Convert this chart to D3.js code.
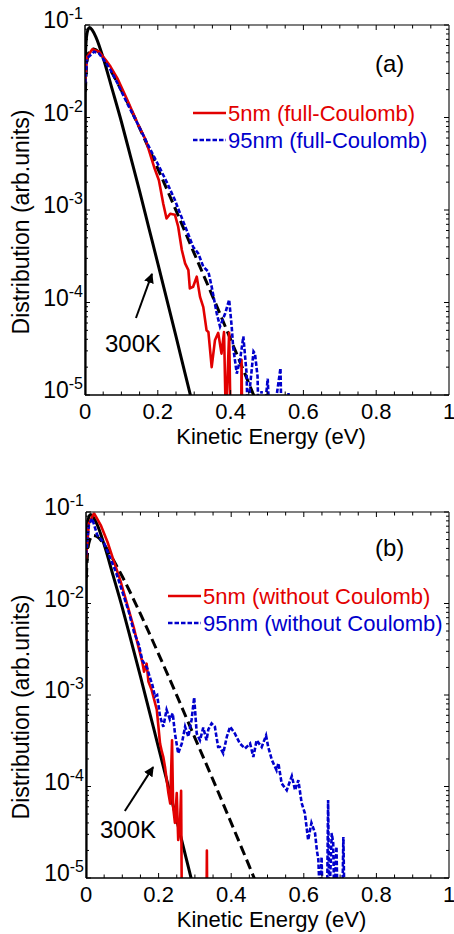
<!DOCTYPE html>
<meta charset="utf-8">
<html>
<head>
<title>Kinetic energy distribution</title>
<script src="https://cdn.jsdelivr.net/npm/d3@7"></script>
<style>
    *{ margin:0; padding:0;}
    body{ background:#fff;}
    svg{ display:block; font-family:"Liberation Sans", Arial, sans-serif;}
</style>
</head>
<body>
<div id="chart"></div>
<script>
// ---- data (energy in eV, distribution in arb. units) ----
// 300 K Maxwell-Boltzmann reference (solid black, same in both panels)
var mbE = [0, 0.001, 0.003, 0.006, 0.01, 0.013, 0.02, 0.03, 0.05, 0.075, 0.1, 0.125, 0.15, 0.175, 0.2, 0.225, 0.25, 0.275, 0.3];
var mbV = [1e-6, 0.041, 0.066, 0.083, 0.092, 0.094, 0.088, 0.074, 0.044, 0.020, 0.009, 0.0038, 0.0016, 6.5e-4, 2.65e-4, 1.07e-4, 4.3e-5, 1.7e-5, 6.8e-6];

// hotter fit (dashed black, same in both panels)
var fitE = [0.001, 0.005, 0.01, 0.02, 0.03, 0.05, 0.075, 0.1, 0.15, 0.2, 0.25, 0.3, 0.35, 0.4, 0.45, 0.47];
var fitV = [0.019, 0.039, 0.049, 0.0555, 0.054, 0.044, 0.030, 0.0197, 0.0077, 0.0028, 9.9e-4, 3.4e-4, 1.18e-4, 4.0e-5, 1.34e-5, 8.6e-6];

// (a) 5nm full-Coulomb
var aRedE = [0, 0.006, 0.02, 0.0385, 0.057, 0.07, 0.089, 0.116, 0.144, 0.167, 0.19, 0.203, 0.215, 0.224, 0.234, 0.247, 0.256, 0.266, 0.275, 0.284, 0.288, 0.297, 0.307, 0.316, 0.325, 0.334, 0.339, 0.348, 0.357, 0.366, 0.375, 0.382, 0.387, 0.396, 0.40, 0.41, 0.429, 0.43, 0.432];
var aRedV = [0.0245, 0.045, 0.0546, 0.0515, 0.0419, 0.0355, 0.0265, 0.0155, 0.0087, 0.0057, 0.0029, 0.0021, 0.00117, 0.00081, 0.00091, 0.00089, 0.00066, 0.00037, 0.000265, 0.000224, 0.000142, 0.000148, 0.00019, 0.000115, 8.9e-5, 5.0e-5, 4.8e-5, 2.0e-5, 3.9e-5, 4.7e-5, 2.8e-5, 4.8e-5, 5e-6, 4.7e-5, 5e-6, null, 5e-6, 2.4e-5, 5e-6];

// (a) 95nm full-Coulomb
var aBlueE = [0, 0.006, 0.025, 0.038, 0.052, 0.07, 0.089, 0.116, 0.144, 0.171, 0.199, 0.226, 0.247, 0.261, 0.279, 0.297, 0.311, 0.325, 0.339, 0.348, 0.362, 0.371, 0.385, 0.396, 0.403, 0.407, 0.417, 0.426, 0.435, 0.444, 0.447, 0.453, 0.463, 0.467, 0.474, 0.477, 0.485, 0.49, 0.502, 0.507, 0.516, 0.537, 0.54, 0.55, 0.559, 0.562];
var aBlueV = [0.0235, 0.0437, 0.0515, 0.0494, 0.0419, 0.0327, 0.0235, 0.01425, 0.00865, 0.00525, 0.0032, 0.00195, 0.00128, 0.00092, 0.00061, 0.0004, 0.00034, 0.000244, 0.000215, 0.000148, 7.6e-5, 5.5e-5, 7.6e-5, 1.07e-4, 5.5e-5, 3.3e-5, 1.7e-5, 2.4e-5, 4.3e-5, 1.7e-5, 5e-6, 1.2e-5, 2.95e-5, 2.8e-5, 1.6e-5, 5e-6, 1.1e-5, 5e-6, 1.5e-5, 5e-6, 5e-6, 1.95e-5, 5e-6, null, 1.05e-5, 5e-6];

// (b) 5nm without Coulomb
var bRedE = [0, 0.008, 0.022, 0.0405, 0.059, 0.077, 0.0955, 0.114, 0.132, 0.141, 0.155, 0.16, 0.167, 0.172, 0.181, 0.195, 0.204, 0.209, 0.213, 0.218, 0.222, 0.227, 0.232, 0.237, 0.24, 0.245, 0.25, 0.254, 0.259, 0.262, 0.264, 0.3, 0.332, 0.333, 0.334];
var bRedV = [0.031, 0.075, 0.097, 0.072, 0.0473, 0.0287, 0.0174, 0.0096, 0.0054, 0.0038, 0.0023, 0.0018, 0.0022, 0.0014, 0.00113, 0.00069, 0.000295, 0.00024, 0.00021, 0.00016, 0.00012, 8.5e-5, 6.5e-5, 3.2e-4, 6e-5, 4e-5, 8.5e-5, 2.6e-5, 4e-5, 9e-5, 5e-6, null, 5e-6, 2e-5, 5e-6];

// (b) 95nm without Coulomb
var bBlueE = [0, 0.008, 0.017, 0.031, 0.05, 0.063, 0.082, 0.1, 0.118, 0.132, 0.146, 0.155, 0.169, 0.175, 0.183, 0.19, 0.196, 0.204, 0.213, 0.222, 0.231, 0.239, 0.245, 0.254, 0.264, 0.273, 0.282, 0.291, 0.298, 0.305, 0.314, 0.323, 0.332, 0.337, 0.346, 0.355, 0.364, 0.369, 0.378, 0.388, 0.397, 0.41, 0.424, 0.438, 0.452, 0.461, 0.47, 0.484, 0.496, 0.502, 0.512, 0.525, 0.53, 0.539, 0.553, 0.567, 0.576, 0.585, 0.594, 0.603, 0.612, 0.621, 0.631, 0.636, 0.64, 0.645, 0.649, 0.652, 0.66, 0.664, 0.667, 0.67, 0.677, 0.681, 0.684, 0.69, 0.693, 0.7, 0.706, 0.709, 0.712];
var bBlueV = [0.034, 0.072, 0.085, 0.056, 0.0457, 0.034, 0.0223, 0.0135, 0.0081, 0.0049, 0.0035, 0.0024, 0.00195, 0.0016, 0.00128, 0.00096, 0.001, 0.00058, 0.00045, 0.00069, 0.00054, 0.00063, 0.00038, 0.00023, 0.000295, 0.00045, 0.00035, 0.00054, 0.00094, 0.00038, 0.00032, 0.00044, 0.00032, 0.00042, 0.00049, 0.00045, 0.00027, 0.00027, 0.00023, 0.00035, 0.00045, 0.00038, 0.000295, 0.00026, 0.000295, 0.00021, 0.00032, 0.00027, 0.00036, 0.00027, 0.000195, 0.00015, 0.00018, 0.000108, 9.1e-5, 0.00013, 9.1e-5, 0.000117, 6.6e-5, 5.1e-5, 2.6e-5, 4e-5, 3.1e-5, 2e-5, 1.6e-5, 5e-6, 1.7e-5, 5e-6, null, 5e-6, 7.1e-5, 5e-6, 3.1e-5, 2.4e-5, 5e-6, 2.2e-5, 5e-6, null, 5e-6, 2.8e-5, 5e-6];

var xTickLabels = ["0", "0.2", "0.4", "0.6", "0.8", "1"];
var yTickExps = [-1, -2, -3, -4, -5];

var panels = [
    { id: "a", tag: "(a)", left: 85, right: 449, top: 25, bottom: 395,
      red: [aRedE, aRedV], blue: [aBlueE, aBlueV],
      redName: "5nm (full-Coulomb)", blueName: "95nm (full-Coulomb)",
      legX: 193, legY: 113, arrow: [[0.14, 6.8e-5], [0.184, 2.04e-4]], kLabel: [105, 352] },
    { id: "b", tag: "(b)", left: 86, right: 449, top: 512, bottom: 878,
      red: [bRedE, bRedV], blue: [bBlueE, bBlueV],
      redName: "5nm (without Coulomb)", blueName: "95nm (without Coulomb)",
      legX: 168, legY: 596, arrow: [[0.107, 5.4e-5], [0.185, 1.63e-4]], kLabel: [100, 838] }
];

var RED = "#e20000", BLUE = "#0000cc";

var svg = d3.select("#chart").append("svg")
    .attr("width", 454).attr("height", 934);

svg.append("defs").append("marker")
    .attr("id", "head").attr("viewBox", "0 0 10 10")
    .attr("refX", 9).attr("refY", 5)
    .attr("markerWidth", 5).attr("markerHeight", 5)
    .attr("orient", "auto")
    .append("path").attr("d", "M0,0L10,5L0,10z").attr("fill", "#000");

function zip(E, V) {
    return E.map(function (e, i) { return { e: e, v: V[i] }; });
}

panels.forEach(function (p) {
    var x = d3.scaleLinear().domain([0, 1]).range([p.left, p.right]);
    var y = d3.scaleLog().domain([1e-5, 1e-1]).range([p.bottom, p.top]);
    var g = svg.append("g");

    g.append("clipPath").attr("id", "clip" + p.id)
        .append("rect").attr("x", p.left).attr("y", p.top)
        .attr("width", p.right - p.left).attr("height", p.bottom - p.top);

    var line = d3.line()
        .defined(function (d) { return d.v != null; })
        .x(function (d) { return x(d.e); })
        .y(function (d) { return y(d.v); });
    var smooth = d3.line()
        .x(function (d) { return x(d.e); })
        .y(function (d) { return y(d.v); })
        .curve(d3.curveMonotoneX);

    var plot = g.append("g").attr("clip-path", "url(#clip" + p.id + ")");
    plot.append("path").datum(zip(mbE, mbV))
        .attr("d", smooth).attr("fill", "none").attr("stroke", "#000").attr("stroke-width", 3);
    plot.append("path").datum(zip(fitE, fitV))
        .attr("d", smooth).attr("fill", "none").attr("stroke", "#000").attr("stroke-width", 3)
        .attr("stroke-dasharray", "10,5");
    plot.append("path").datum(zip(p.red[0], p.red[1]))
        .attr("d", line).attr("fill", "none").attr("stroke", RED).attr("stroke-width", 2.6)
        .attr("stroke-linejoin", "round");
    plot.append("path").datum(zip(p.blue[0], p.blue[1]))
        .attr("d", line).attr("fill", "none").attr("stroke", BLUE).attr("stroke-width", 2.6)
        .attr("stroke-dasharray", "4.5,2");

    // box
    g.append("line").attr("x1", p.left).attr("x2", p.right).attr("y1", p.top).attr("y2", p.top)
        .attr("stroke", "#555").attr("stroke-width", 1.5);
    g.append("line").attr("x1", p.right).attr("x2", p.right).attr("y1", p.top).attr("y2", p.bottom)
        .attr("stroke", "#666").attr("stroke-width", 1.8);
    g.append("line").attr("x1", p.left).attr("x2", p.right).attr("y1", p.bottom).attr("y2", p.bottom)
        .attr("stroke", "#000").attr("stroke-width", 1.5);
    g.append("line").attr("x1", p.left).attr("x2", p.left).attr("y1", p.top).attr("y2", p.bottom)
        .attr("stroke", "#000").attr("stroke-width", 1.5);

    // x ticks every 0.05, longer at labelled ones
    d3.range(1, 20).forEach(function (i) {
        var xv = x(i * 0.05), len = (i % 4 === 0) ? 5 : 3.5;
        g.append("line").attr("x1", xv).attr("x2", xv).attr("y1", p.bottom).attr("y2", p.bottom - len)
            .attr("stroke", "#000").attr("stroke-width", 1);
        g.append("line").attr("x1", xv).attr("x2", xv).attr("y1", p.top).attr("y2", p.top + len)
            .attr("stroke", "#000").attr("stroke-width", 1);
    });
    xTickLabels.forEach(function (t) {
        g.append("text").attr("x", x(+t)).attr("y", p.bottom + 24)
            .attr("text-anchor", "middle").attr("font-size", 22).text(t);
    });

    // y ticks (log minor ticks inside on both sides)
    y.ticks().forEach(function (v) {
        var lg = Math.log10(v), major = Math.abs(lg - Math.round(lg)) < 1e-6;
        var len = major ? 5 : 3, yv = y(v);
        g.append("line").attr("x1", p.left).attr("x2", p.left + len).attr("y1", yv).attr("y2", yv)
            .attr("stroke", "#000").attr("stroke-width", 1);
        g.append("line").attr("x1", p.right).attr("x2", p.right - len).attr("y1", yv).attr("y2", yv)
            .attr("stroke", "#000").attr("stroke-width", 1);
    });
    yTickExps.forEach(function (k) {
        var t = g.append("text").attr("x", p.left - 2).attr("y", y(Math.pow(10, k)) + 3)
            .attr("text-anchor", "end");
        t.append("tspan").attr("font-size", 23).text("10");
        t.append("tspan").attr("font-size", 16).attr("dy", -9).text(String(k));
    });

    // axis titles
    g.append("text").attr("x", (p.left + p.right) / 2 + 4).attr("y", p.bottom + 49)
        .attr("text-anchor", "middle").attr("font-size", 22).text("Kinetic Energy (eV)");
    g.append("text")
        .attr("transform", "translate(29," + ((p.top + p.bottom) / 2 + 12) + ") rotate(-90)")
        .attr("text-anchor", "middle").attr("font-size", 23).text("Distribution (arb.units)");

    // panel tag
    g.append("text").attr("x", 375).attr("y", p.top + (p.id === "a" ? 47 : 44))
        .attr("font-size", 24).text(p.tag);

    // legend
    g.append("line").attr("x1", p.legX).attr("x2", p.legX + 33).attr("y1", p.legY).attr("y2", p.legY)
        .attr("stroke", RED).attr("stroke-width", 2.6);
    g.append("text").attr("x", p.legX + 35).attr("y", p.legY + 8).attr("font-size", 22)
        .attr("fill", RED).text(p.redName);
    g.append("line").attr("x1", p.legX).attr("x2", p.legX + 33).attr("y1", p.legY + 27).attr("y2", p.legY + 27)
        .attr("stroke", BLUE).attr("stroke-width", 2.6).attr("stroke-dasharray", "4.5,2");
    g.append("text").attr("x", p.legX + 35).attr("y", p.legY + 35).attr("font-size", 22)
        .attr("fill", BLUE).text(p.blueName);

    // 300K annotation
    g.append("line")
        .attr("x1", x(p.arrow[0][0])).attr("y1", y(p.arrow[0][1]))
        .attr("x2", x(p.arrow[1][0])).attr("y2", y(p.arrow[1][1]))
        .attr("stroke", "#000").attr("stroke-width", 2).attr("marker-end", "url(#head)");
    g.append("text").attr("x", p.kLabel[0]).attr("y", p.kLabel[1])
        .attr("font-size", 24).text("300K");
});
</script>
</body>
</html>
